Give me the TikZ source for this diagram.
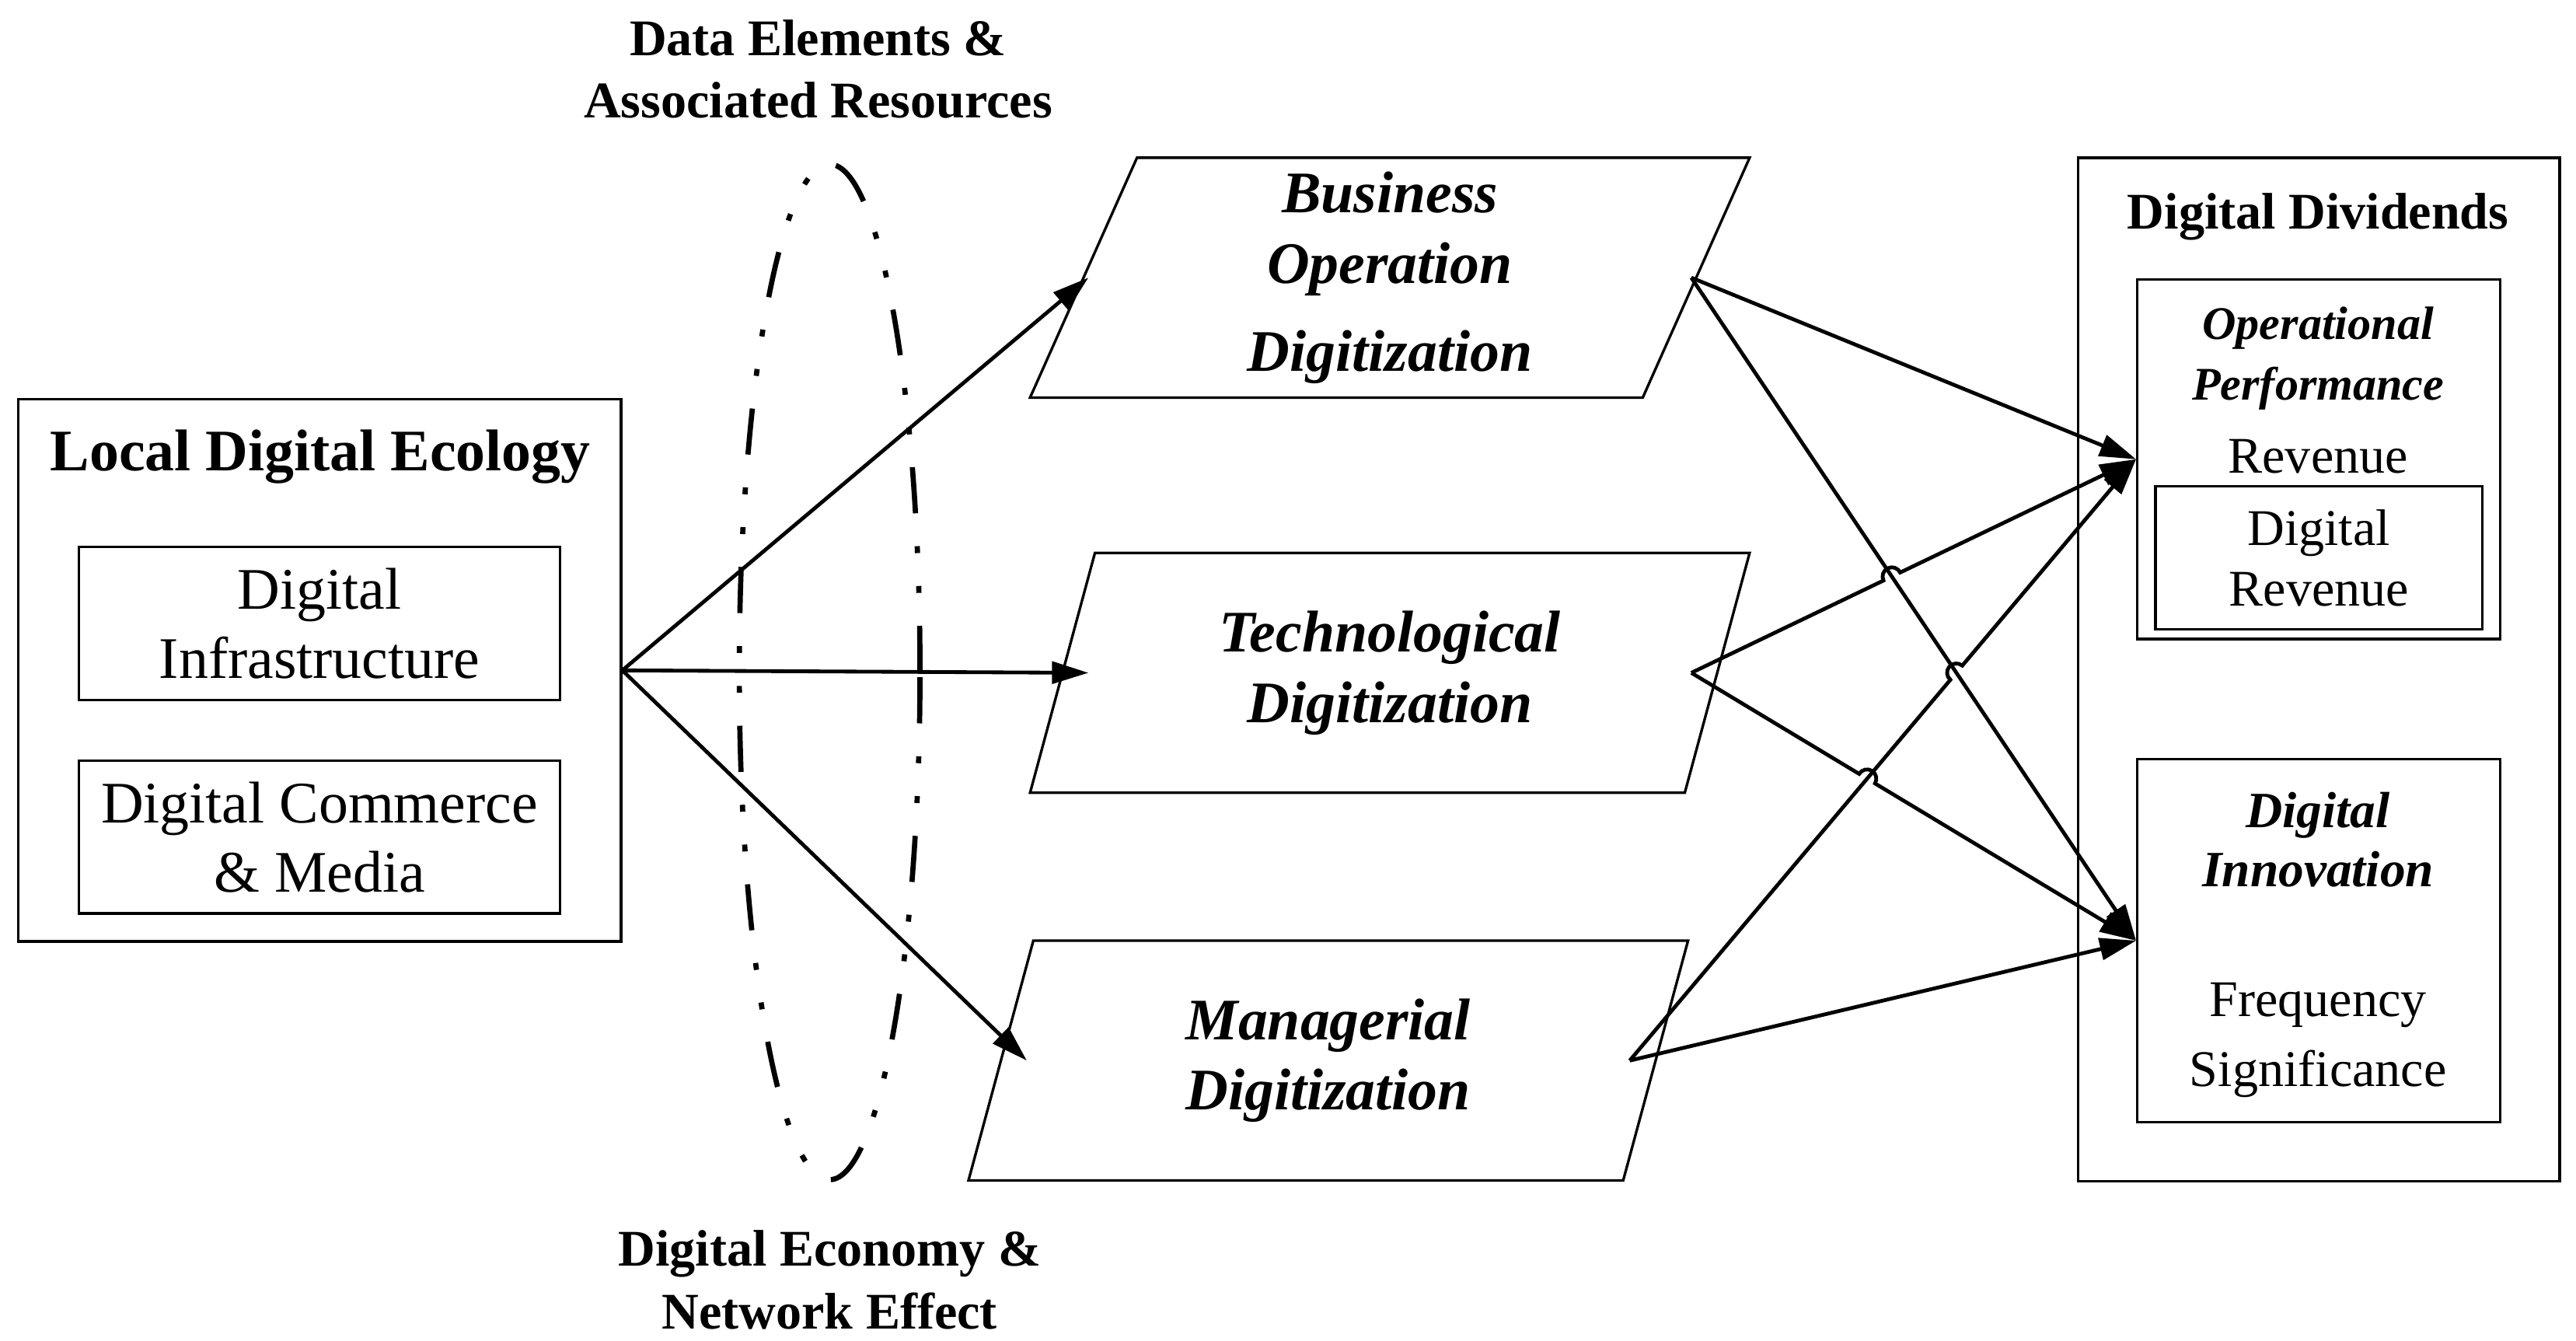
\documentclass[tikz,border=0pt]{standalone}
\usepackage{fontspec}
\setmainfont{Liberation Serif}
\usetikzlibrary{shapes.geometric, arrows.meta, calc, intersections}

\begin{document}
\begin{tikzpicture}[x=0.1mm, y=-0.1mm,
    box/.style = {draw, line width=0.45pt, inner sep=0pt, align=center},
    para/.style = {draw, line width=0.45pt, trapezium, trapezium left angle=64.4, trapezium right angle=115.6,
        trapezium stretches body, minimum width=4.38cm, minimum height=1.46cm, inner sep=1pt, align=center,
        font=\fontsize{10.2}{12.2}\selectfont\bfseries\itshape},
    conn/.style = {line width=0.65pt, -{Triangle[length=6.3pt, width=3.8pt]}},
    ring/.style = {draw, ellipse, line width=0.9pt, inner sep=0pt,
        dash pattern=on 8pt off 5.7pt on 1.2pt off 5.7pt on 1.2pt off 5.7pt},
    head/.style = {align=center, font=\fontsize{10.2}{12}\selectfont\bfseries},
    labl/.style = {align=center, font=\fontsize{8.9}{10.8}\selectfont\bfseries},
    item/.style = {align=center, font=\fontsize{8.9}{10.5}\selectfont}]
    \useasboundingbox (0,0) rectangle (1568,816);

    % local digital ecology
    \node[box, minimum width=3.67cm, minimum height=3.30cm] (lde) at (194.5,408) {};
    \node[head] (ldetitle) at (195,278) {Local Digital Ecology};
    \node[box, item, font=\fontsize{10.2}{12}\selectfont, minimum width=2.93cm, minimum height=0.93cm] (infra) at (194.5,379.5) {Digital\\Infrastructure};
    \node[box, item, font=\fontsize{10.2}{12}\selectfont, minimum width=2.93cm, minimum height=0.93cm] (comm) at (194.5,509.5) {Digital Commerce\\\& Media};

    % ring and its labels
    \node[ring, minimum width=1.1cm, minimum height=6.18cm] (ring) at (505,409) {};
    \node[labl] (datalab) at (498,42) {Data Elements \&\\Associated Resources};
    \node[labl] (netlab) at (505,779) {Digital Economy \&\\Network Effect};

    % digitization
    \node[para] (bus) at (846,169) {Business\\Operation\\[3pt]Digitization};
    \node[para] (tec) at (846,409.5) {Technological\\Digitization};
    \node[para] (man) at (808.5,645.5) {Managerial\\Digitization};
    \foreach \p in {bus, tec, man} {
        \coordinate (\p l) at ($(\p.center)+(-183.5,0)$);
        \coordinate (\p r) at ($(\p.center)+(183.5,0)$);
    }

    % digital dividends
    \node[box, minimum width=2.93cm, minimum height=6.23cm] (div) at (1411.5,407.5) {};
    \node[labl] (divtitle) at (1411,132) {Digital Dividends};
    \node[box, minimum width=2.21cm, minimum height=2.19cm] (op) at (1411.5,279.5) {};
    \node[align=center, font=\fontsize{8.1}{10.5}\selectfont\bfseries\itshape] (optitle) at (1411,218) {Operational\\Performance};
    \node[item] (rev) at (1411,278) {Revenue};
    \node[box, item, minimum width=1.99cm, minimum height=0.87cm] (digrev) at (1411.5,339.5) {Digital\\Revenue};
    \node[box, minimum width=2.21cm, minimum height=2.21cm] (inn) at (1411.5,572.5) {};
    \node[align=center, font=\fontsize{8.8}{10.3}\selectfont\bfseries\itshape] (inntitle) at (1411,511) {Digital\\Innovation};
    \node[item, font=\fontsize{8.9}{12.2}\selectfont] (innitems) at (1411,633) {Frequency\\Significance};

    % arrows out of the ecology
    \draw[conn] (lde.east) -- (busl);
    \draw[conn] (lde.east) -- (tecl);
    \draw[conn] (lde.east) -- (manl);

    % crossings
    \path[name path=bi] (busr) -- (inn.west);
    \path[name path=to] (tecr) -- (op.west);
    \path[name path=ti] (tecr) -- (inn.west);
    \path[name path=mo] (manr) -- (op.west);
    \path[name intersections={of=bi and to, by=h1}];
    \path[name intersections={of=bi and mo, by=h2}];
    \path[name intersections={of=ti and mo, by=h3}];

    % arrows into the dividends
    \draw[conn] (busr) -- (op.west);
    \draw[conn] (busr) -- (inn.west);
    \draw[conn] (manr) -- (inn.west);
    \draw[conn] let \p1=($(op.west)-(tecr)$), \n1={atan2(\y1,\x1)} in
        (tecr) -- ($(h1)!1.6pt!(tecr)$) arc[start angle=\n1+180, delta angle=-180, radius=1.6pt] -- (op.west);
    \draw[conn] let \p1=($(op.west)-(manr)$), \n1={atan2(\y1,\x1)} in
        (manr) -- ($(h2)!1.6pt!(manr)$) arc[start angle=\n1+180, delta angle=-180, radius=1.6pt] -- (op.west);
    \draw[conn] let \p1=($(inn.west)-(tecr)$), \n1={atan2(\y1,\x1)} in
        (tecr) -- ($(h3)!1.6pt!(tecr)$) arc[start angle=\n1+180, delta angle=-180, radius=1.6pt] -- (inn.west);
\end{tikzpicture}
\end{document}
